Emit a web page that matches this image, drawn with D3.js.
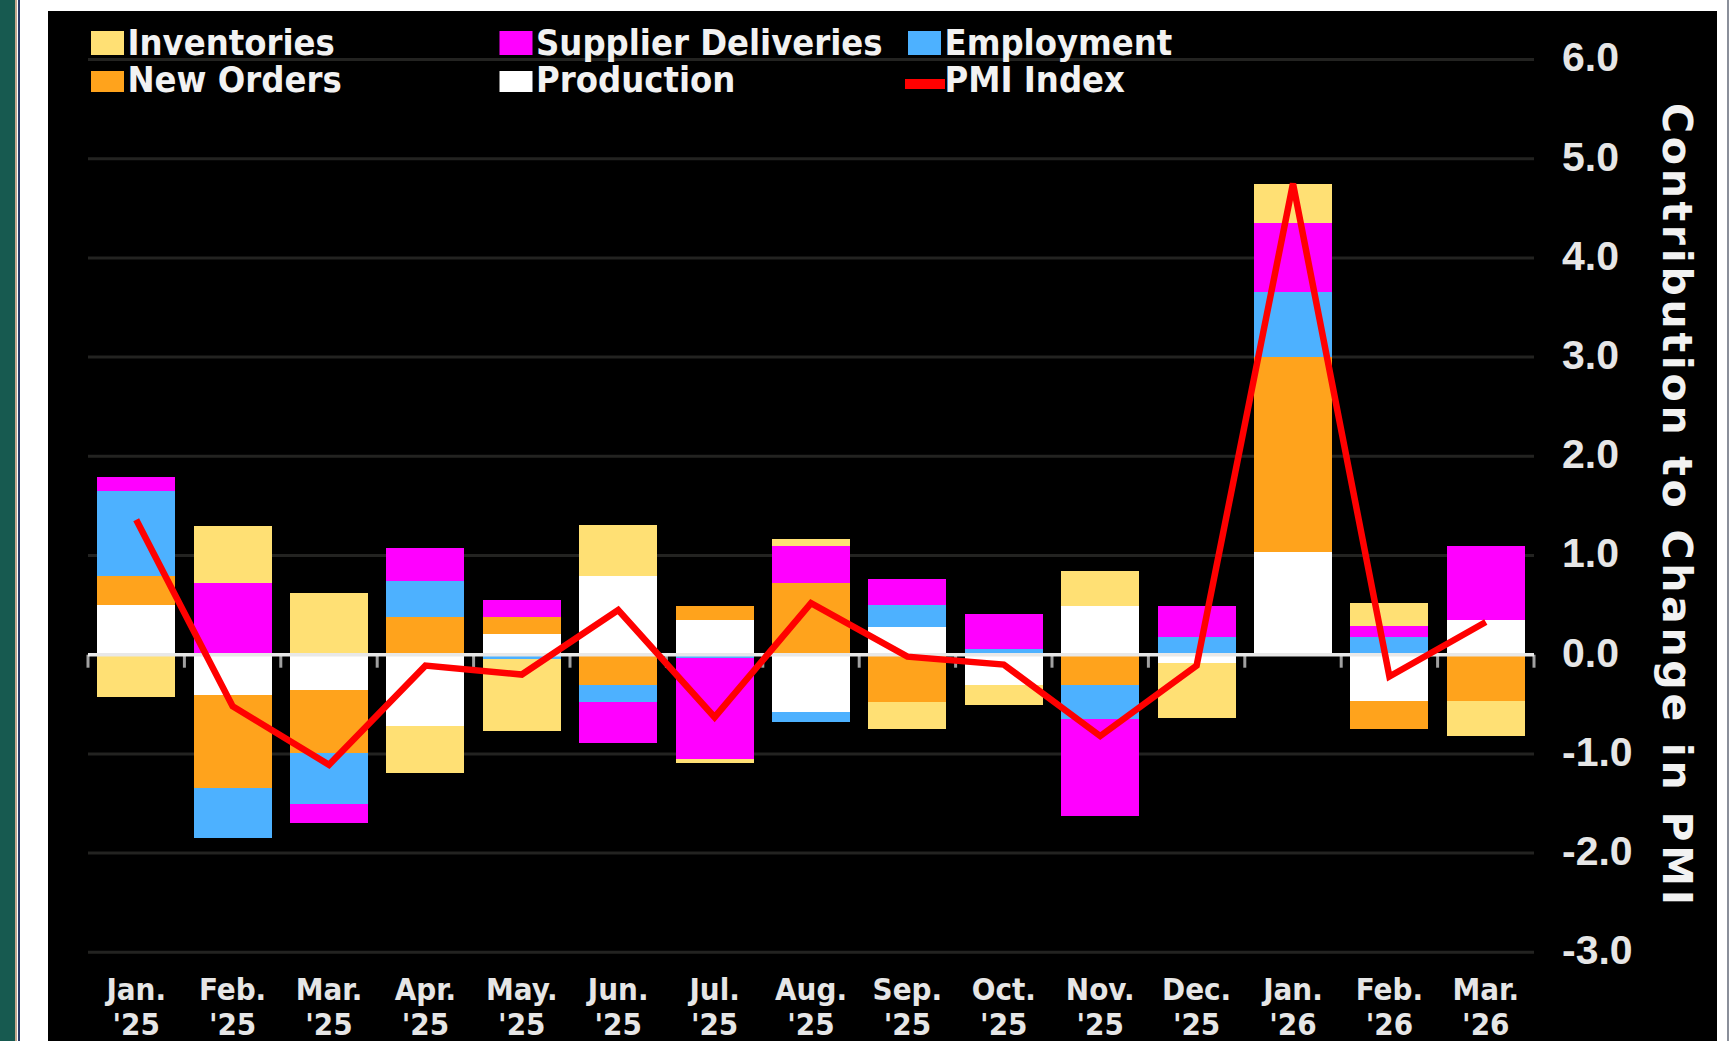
<!DOCTYPE html>
<meta charset="utf-8">
<style>
html, body {
  margin: 0;
  background: #fff;
}
svg {
  display: block;
  font-family: "DejaVu Sans", sans-serif;
  font-weight: bold;
  font-stretch: condensed;
}
</style>
<svg width="1729" height="1041"></svg>
<script src="https://d3js.org/d3.v7.min.js"></script>
<script>

// month labels, "name year"
var months = ["Jan. '25", "Feb. '25", "Mar. '25", "Apr. '25", "May. '25", "Jun. '25", "Jul. '25",
              "Aug. '25", "Sep. '25", "Oct. '25", "Nov. '25", "Dec. '25", "Jan. '26", "Feb. '26", "Mar. '26"];

// contributions to change in PMI
var production  = [0.50, -0.41, -0.36, -0.72, 0.21, 0.79, 0.35, -0.58, 0.28, -0.31, 0.49, -0.08, 1.04, -0.47, 0.35];
var newOrders   = [0.29, -0.93, -0.63, 0.38, 0.17, -0.31, 0.14, 0.72, -0.48, 0.00, -0.31, 0.00, 1.96, -0.28, -0.47];
var employment  = [0.86, -0.51, -0.51, 0.36, -0.04, -0.17, -0.03, -0.10, 0.22, 0.06, -0.34, 0.18, 0.66, 0.18, 0.00];
var supplier    = [0.14, 0.72, -0.20, 0.34, 0.17, -0.41, -1.02, 0.38, 0.26, 0.35, -0.98, 0.31, 0.69, 0.11, 0.75];
var inventories = [-0.43, 0.58, 0.62, -0.47, -0.73, 0.52, -0.04, 0.07, -0.27, -0.20, 0.35, -0.56, 0.39, 0.23, -0.35];
var pmiIndex    = [1.36, -0.52, -1.11, -0.11, -0.20, 0.45, -0.63, 0.52, -0.02, -0.10, -0.82, -0.11, 4.75, -0.22, 0.33];

var yTicks = [-3, -2, -1, 0, 1, 2, 3, 4, 5, 6];

// stacking order, from the zero line outwards
var keys = ["Production", "New Orders", "Employment", "Supplier Deliveries", "Inventories"];
var seriesValues = {
  "Production": production,
  "New Orders": newOrders,
  "Employment": employment,
  "Supplier Deliveries": supplier,
  "Inventories": inventories
};
var colors = {
  "Production": "#ffffff",
  "New Orders": "#ffa31c",
  "Employment": "#4db1ff",
  "Supplier Deliveries": "#ff00ff",
  "Inventories": "#ffe074",
  "PMI Index": "#ff0000"
};
// legend reads row by row, three columns
var legendOrder = ["Inventories", "Supplier Deliveries", "Employment", "New Orders", "Production", "PMI Index"];

var svg = d3.select("svg"),
    width = +svg.attr("width"),
    height = +svg.attr("height"),
    frame = {left: 48, top: 11, right: 1717},
    plot = {left: 88, right: 1534};

// page frame: teal strip on the left, black chart panel
svg.append("rect").attr("x", 0).attr("y", 0).attr("width", 15).attr("height", height).attr("fill", "#175a50");
svg.append("rect").attr("x", 15).attr("y", 0).attr("width", 2).attr("height", height).attr("fill", "#c4a88e");
svg.append("rect").attr("x", 18).attr("y", 0).attr("width", 2).attr("height", height).attr("fill", "#2c3d68");
svg.append("rect").attr("x", 1727).attr("y", 0).attr("width", 2).attr("height", height).attr("fill", "#8a8f9a");
svg.append("rect")
    .attr("x", frame.left).attr("y", frame.top)
    .attr("width", frame.right - frame.left).attr("height", height - frame.top)
    .attr("fill", "#000");

var data = months.map(function(m, i) {
  var row = {month: m};
  keys.forEach(function(k) { row[k] = seriesValues[k][i]; });
  return row;
});

var x = d3.scaleBand()
    .domain(months)
    .range([plot.left, plot.right])
    .paddingInner(0.19)
    .paddingOuter(0.095);

var y = d3.scaleLinear()
    .domain([-3, 6])
    .range([952.3, 59.5]);

// gridlines
svg.append("g")
  .selectAll("line")
  .data(yTicks.filter(function(d) { return d !== 0; }))
  .enter().append("line")
    .attr("x1", plot.left).attr("x2", plot.right)
    .attr("y1", function(d) { return y(d); })
    .attr("y2", function(d) { return y(d); })
    .attr("stroke", "#232321")
    .attr("stroke-width", 3);

var series = d3.stack()
    .keys(keys)
    .offset(d3.stackOffsetDiverging)(data);

svg.append("g")
    .attr("shape-rendering", "crispEdges")
  .selectAll("g")
  .data(series)
  .enter().append("g")
    .attr("fill", function(d) { return colors[d.key]; })
  .selectAll("rect")
  .data(function(d) { return d; })
  .enter().append("rect")
    .attr("x", function(d) { return x(d.data.month); })
    .attr("width", x.bandwidth())
    .attr("y", function(d) { return y(Math.max(d[0], d[1])); })
    .attr("height", function(d) { return Math.abs(y(d[0]) - y(d[1])); });

// zero line with ticks at the band edges
var edges = d3.range(months.length + 1).map(function(i) {
  return plot.left + i * x.step();
});
svg.append("g")
  .selectAll("line")
  .data(edges)
  .enter().append("line")
    .attr("x1", function(d) { return d; })
    .attr("x2", function(d) { return d; })
    .attr("y1", y(0))
    .attr("y2", y(0) + 13)
    .attr("stroke", "#a0a0a0")
    .attr("stroke-width", 3);
svg.append("line")
    .attr("x1", plot.left).attr("x2", plot.right)
    .attr("y1", y(0)).attr("y2", y(0))
    .attr("stroke", "#e8e8e8")
    .attr("stroke-width", 3.5);

// PMI line
var line = d3.line()
    .x(function(d, i) { return x(months[i]) + x.bandwidth() / 2; })
    .y(function(d) { return y(d); });

svg.append("path")
    .datum(pmiIndex)
    .attr("d", line)
    .attr("fill", "none")
    .attr("stroke", colors["PMI Index"])
    .attr("stroke-width", 6.5)
    .attr("stroke-linejoin", "miter");

// right axis labels
var yAxis = svg.append("g")
    .attr("transform", "translate(" + plot.right + ",0)")
    .call(d3.axisRight(y)
      .tickValues(yTicks)
      .tickSize(0)
      .tickPadding(28)
      .tickFormat(function(d) { return d3.format(".1f")(d).replace("\u2212", "-"); }));
yAxis.select(".domain").remove();
yAxis.selectAll("text")
    .attr("fill", "#e6e6e6")
    .attr("font-size", 41)
    .attr("font-family", null)
    .attr("dy", "0.28em");

svg.append("text")
    .attr("transform", "translate(1663," + ((103 + 905) / 2) + ") rotate(90)")
    .attr("text-anchor", "middle")
    .attr("fill", "#f2f2f2")
    .attr("font-size", 41)
    .attr("font-stretch", "normal")
    .attr("textLength", 802)
    .attr("lengthAdjust", "spacing")
    .text("Contribution to Change in PMI");

// month labels, two lines
var xLabels = svg.append("g")
  .selectAll("text")
  .data(months)
  .enter().append("text")
    .attr("x", function(d) { return x(d) + x.bandwidth() / 2; })
    .attr("text-anchor", "middle")
    .attr("fill", "#e6e6e6")
    .attr("font-size", 31);
xLabels.append("tspan")
    .attr("x", function(d) { return x(d) + x.bandwidth() / 2; })
    .attr("y", 1000)
    .text(function(d) { return d.split(" ")[0]; });
xLabels.append("tspan")
    .attr("x", function(d) { return x(d) + x.bandwidth() / 2; })
    .attr("y", 1035)
    .text(function(d) { return d.split(" ")[1]; });

// legend
var legend = svg.append("g")
  .selectAll("g")
  .data(legendOrder)
  .enter().append("g")
    .attr("transform", function(d, i) {
      return "translate(" + (91 + (i % 3) * 408.5) + "," + (i < 3 ? 55 : 92) + ")";
    });

legend.filter(function(d) { return d !== "PMI Index"; })
  .append("rect")
    .attr("x", 0)
    .attr("y", function(d, i) { return legendOrder.indexOf(d) < 3 ? -24 : -21; })
    .attr("width", 33)
    .attr("height", function(d) { return legendOrder.indexOf(d) < 3 ? 24 : 21; })
    .attr("fill", function(d) { return colors[d]; });

legend.filter(function(d) { return d === "PMI Index"; })
  .append("line")
    .attr("x1", -3).attr("x2", 37)
    .attr("y1", -8).attr("y2", -8)
    .attr("stroke", colors["PMI Index"])
    .attr("stroke-width", 10);

legend.append("text")
    .attr("x", 36.5)
    .attr("fill", "#f2f2f2")
    .attr("font-size", 36)
    .text(function(d) { return d; });

</script>
